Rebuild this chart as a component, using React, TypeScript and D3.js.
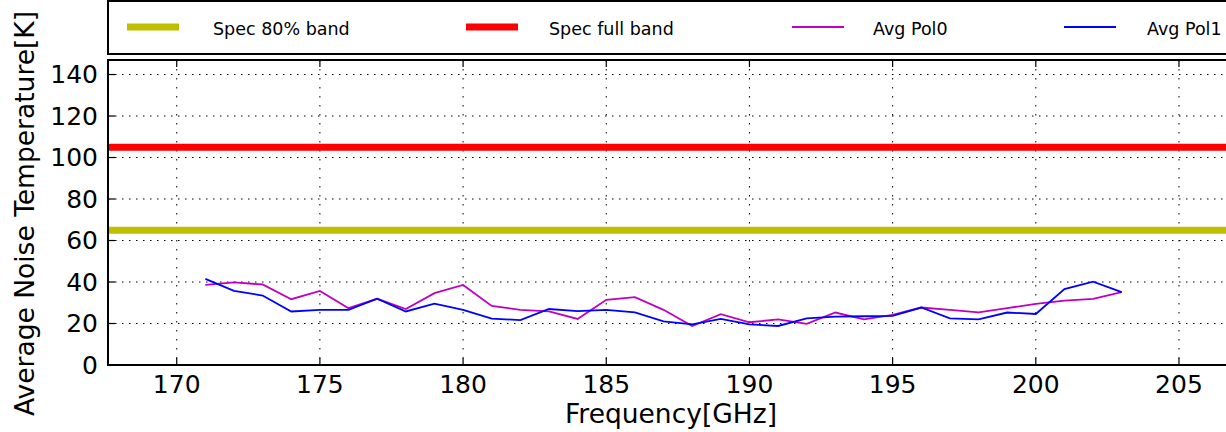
import React from "react";
import * as d3 from "d3";

// Frequency channels (GHz)
const freqs = [171, 172, 173, 174, 175, 176, 177, 178, 179, 180, 181, 182, 183, 184, 185, 186, 187,
  188, 189, 190, 191, 192, 193, 194, 195, 196, 197, 198, 199, 200, 201, 202, 203];

// Average noise temperature, polarisation 0 (K)
const pol0 = [38.6, 39.8, 38.8, 31.7, 35.7, 27.4, 31.9, 27.0, 34.6, 38.6, 28.5, 26.6, 25.8, 22.2, 31.4,
  32.7, 26.6, 18.8, 24.5, 20.6, 22.0, 19.8, 25.3, 22.0, 24.2, 27.7, 26.6, 25.4, 27.4, 29.5, 31.0, 31.9, 35.1];

// Average noise temperature, polarisation 1 (K)
const pol1 = [41.5, 35.7, 33.5, 25.8, 26.6, 26.6, 32.0, 25.8, 29.6, 26.6, 22.4, 21.6, 27.0, 26.0, 26.6,
  25.4, 21.0, 19.6, 22.2, 19.6, 18.8, 22.5, 23.3, 23.5, 23.7, 27.7, 22.5, 22.0, 25.3, 24.6, 36.6, 40.2, 35.1];

// Specification limits (K)
const specFull = 105;
const spec80 = 65;

const xTicks = [170, 175, 180, 185, 190, 195, 200, 205];
const yTicks = [0, 20, 40, 60, 80, 100, 120, 140];

const legendItems = [
  { label: "Spec 80% band", color: "#bfbf00", width: 7, x: 127, tx: 213 },
  { label: "Spec full band", color: "#ff0000", width: 7, x: 466, tx: 549 },
  { label: "Avg Pol0", color: "#bf00bf", width: 2, x: 792, tx: 873 },
  { label: "Avg Pol1", color: "#0000ff", width: 2, x: 1064, tx: 1147 },
];

const W = 1226;
const H = 432;
const left = 108;
const right = 1252;
const top = 60;
const bottom = 365;

export default function App() {
  const x = d3.scaleLinear().domain([167.6, 207.55]).range([left, right]);
  const y = d3.scaleLinear().domain([0, 147]).range([bottom, top]);

  const line = d3
    .line<[number, number]>()
    .x((d) => x(d[0]))
    .y((d) => y(d[1]));

  const p0 = line(freqs.map((f, i) => [f, pol0[i]]) as [number, number][]) || "";
  const p1 = line(freqs.map((f, i) => [f, pol1[i]]) as [number, number][]) || "";

  const font = "'DejaVu Sans', sans-serif";

  return (
    <svg
      width={W}
      height={H}
      style={{ position: "absolute", left: 0, top: 0, background: "#fff" }}
      fontFamily={font}
    >
      <rect x={0} y={0} width={W} height={H} fill="#fff" />
      <defs>
        <clipPath id="plot">
          <rect x={left} y={top} width={right - left} height={bottom - top} />
        </clipPath>
      </defs>

      {/* grid */}
      <g stroke="#000" strokeWidth={1}>
        {yTicks.map((t) => (
          <line key={"gy" + t} x1={left} x2={right} y1={y(t)} y2={y(t)} strokeDasharray="1.5,5.5" />
        ))}
        {xTicks.map((t) => (
          <line key={"gx" + t} x1={x(t)} x2={x(t)} y1={top} y2={bottom} strokeDasharray="1.5,7.5" />
        ))}
      </g>

      {/* data */}
      <g clipPath="url(#plot)" fill="none">
        <line x1={left} x2={right} y1={y(spec80)} y2={y(spec80)} stroke="#bfbf00" strokeWidth={7} />
        <line x1={left} x2={right} y1={y(specFull)} y2={y(specFull)} stroke="#ff0000" strokeWidth={7} />
        <path d={p0} stroke="#bf00bf" strokeWidth={1.8} />
        <path d={p1} stroke="#0000ff" strokeWidth={1.8} />
      </g>

      {/* ticks */}
      <g stroke="#000" strokeWidth={1.2}>
        {yTicks.map((t) => (
          <line key={"ty" + t} x1={left} x2={left + 7} y1={y(t)} y2={y(t)} />
        ))}
        {xTicks.map((t) => (
          <g key={"tx" + t}>
            <line x1={x(t)} x2={x(t)} y1={bottom} y2={bottom - 7} />
            <line x1={x(t)} x2={x(t)} y1={top} y2={top + 7} />
          </g>
        ))}
      </g>

      {/* frame */}
      <rect x={left} y={top} width={right - left} height={bottom - top} fill="none" stroke="#000" strokeWidth={2} />

      {/* tick labels */}
      <g fill="#000" fontSize={25}>
        {yTicks.map((t) => (
          <text key={"ly" + t} x={left - 10} y={y(t)} textAnchor="end" dominantBaseline="central">
            {t}
          </text>
        ))}
        {xTicks.map((t) => (
          <text key={"lx" + t} x={x(t)} y={bottom + 28} textAnchor="middle">
            {t}
          </text>
        ))}
      </g>

      {/* axis labels */}
      <text x={671} y={423} textAnchor="middle" fontSize={26.5} fill="#000">
        Frequency[GHz]
      </text>
      <text
        transform={`translate(24,${(top + bottom) / 2 + 1}) rotate(-90)`}
        textAnchor="middle"
        dominantBaseline="central"
        fontSize={26.5}
        fill="#000"
      >
        Average Noise Temperature[K]
      </text>

      {/* legend */}
      <rect x={108} y={1} width={1140} height={53} fill="#fff" stroke="#000" strokeWidth={2} />
      {legendItems.map((it) => (
        <g key={it.label}>
          <line x1={it.x} x2={it.x + 52} y1={27} y2={27} stroke={it.color} strokeWidth={it.width} />
          <text x={it.tx} y={29} dominantBaseline="central" fontSize={17.5} fill="#000">
            {it.label}
          </text>
        </g>
      ))}
    </svg>
  );
}
